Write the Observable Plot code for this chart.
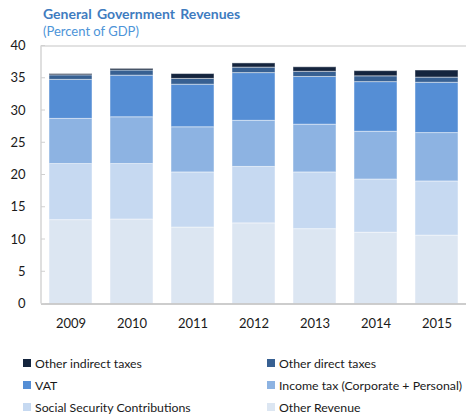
<!DOCTYPE html>
<html><head><meta charset="utf-8">
<script src="https://cdn.jsdelivr.net/npm/d3@7"></script>
<script src="https://cdn.jsdelivr.net/npm/@observablehq/plot@0.6"></script>
<style>
body{margin:0;background:#fff;font-family:Lato,"Open Sans",sans-serif;}
#wrap{position:relative;width:466px;height:418px;overflow:hidden;}
#title{position:absolute;left:43px;top:5px;font-weight:bold;font-size:14px;color:#3F7CBF;white-space:nowrap;word-spacing:2px;}
#sub{position:absolute;left:43px;top:23px;font-size:13px;color:#4D94D8;white-space:nowrap;}
#chart{position:absolute;left:0;top:38px;}
.item{position:absolute;display:flex;align-items:center;font-size:12.3px;color:#1a1a1a;white-space:nowrap;height:16px;}
.sw{width:8px;height:8px;margin-right:4px;flex:none;}
</style></head>
<body>
<div id="wrap">
  <div id="title">General Government  Revenues</div>
  <div id="sub">(Percent of GDP)</div>
  <div id="chart"></div>
  <div id="legend"></div>
</div>
<script>
const years = ["2009","2010","2011","2012","2013","2014","2015"];
const seriesNames = ["Other Revenue","Social Security Contributions","Income tax (Corporate + Personal)","VAT","Other direct taxes","Other indirect taxes"];
const otherRevenue   = [13.0, 13.1, 11.85, 12.5, 11.6, 11.05, 10.6];
const socialSecurity = [8.7, 8.6, 8.55, 8.75, 8.8, 8.25, 8.4];
const incomeTax      = [7.0, 7.25, 7.0, 7.15, 7.4, 7.4, 7.5];
const vat            = [6.05, 6.45, 6.6, 7.4, 7.4, 7.7, 7.8];
const otherDirect    = [0.7, 0.8, 0.9, 0.85, 0.8, 0.9, 0.8];
const otherIndirect  = [0.2, 0.25, 0.75, 0.65, 0.7, 0.8, 1.1];
const yTicks = [0,5,10,15,20,25,30,35,40];
const colors = ["#DCE6F2","#C6D9F1","#8DB3E2","#558ED5","#376092","#14243D"];
const legendOrder = ["Other indirect taxes","Other direct taxes","VAT","Income tax (Corporate + Personal)","Social Security Contributions","Other Revenue"];

const seriesValues = [otherRevenue, socialSecurity, incomeTax, vat, otherDirect, otherIndirect];
const rows = [];
seriesNames.forEach((s, i) => years.forEach((yr, j) => rows.push({year: yr, series: s, value: seriesValues[i][j]})));

const leftFrame = (index, scales, values, dim) => {
  const g = d3.create("svg:g");
  const x0 = dim.marginLeft;
  g.append("line").attr("x1", x0).attr("x2", x0).attr("y1", scales.y(40)).attr("y2", scales.y(0))
    .attr("stroke", "#d4d4d4").attr("stroke-width", 1.5);
  for (const t of yTicks) {
    g.append("line").attr("x1", x0).attr("x2", x0 + 4).attr("y1", scales.y(t)).attr("y2", scales.y(t))
      .attr("stroke", "#d0d0d0").attr("stroke-width", 1);
  }
  return g.node();
};

const chart = Plot.plot({
  width: 466, height: 300,
  marginTop: 7.5, marginBottom: 34.5, marginLeft: 41, marginRight: 0,
  style: {fontFamily: "Lato, 'Open Sans', sans-serif", fontSize: "13px", color: "#1a1a1a", background: "white"},
  x: {domain: years, paddingInner: 0.287, paddingOuter: 0.113, label: null},
  y: {domain: [0, 40], label: null},
  color: {domain: seriesNames, range: colors},
  marks: [
    Plot.barY(rows, {x: "year", y: "value", fill: "series", stroke: "white", strokeOpacity: 0.45, strokeWidth: 1}),
    Plot.ruleY([40], {stroke: "#d9d9d9", strokeWidth: 1.5}),
    Plot.ruleY([0], {stroke: "#bdbdbd", strokeWidth: 1.5}),
    leftFrame,
    Plot.axisY({ticks: yTicks, tickSize: 0, tickPadding: 16, fontSize: 13}),
    Plot.axisX({tickSize: 0, tickPadding: 15, fontSize: 13})
  ]
});
document.getElementById("chart").appendChild(chart);

const legend = document.getElementById("legend");
const colorOf = Object.fromEntries(seriesNames.map((s, i) => [s, colors[i]]));
const rowY = [355, 377, 399];
const colX = [23, 267];
legendOrder.forEach((s, i) => {
  const it = document.createElement("div");
  it.className = "item";
  it.style.left = colX[i % 2] + "px";
  it.style.top = rowY[Math.floor(i / 2)] + "px";
  const sw = document.createElement("span");
  sw.className = "sw";
  sw.style.background = colorOf[s];
  const tx = document.createElement("span");
  tx.textContent = s;
  it.appendChild(sw); it.appendChild(tx);
  legend.appendChild(it);
});
</script>
</body></html>
